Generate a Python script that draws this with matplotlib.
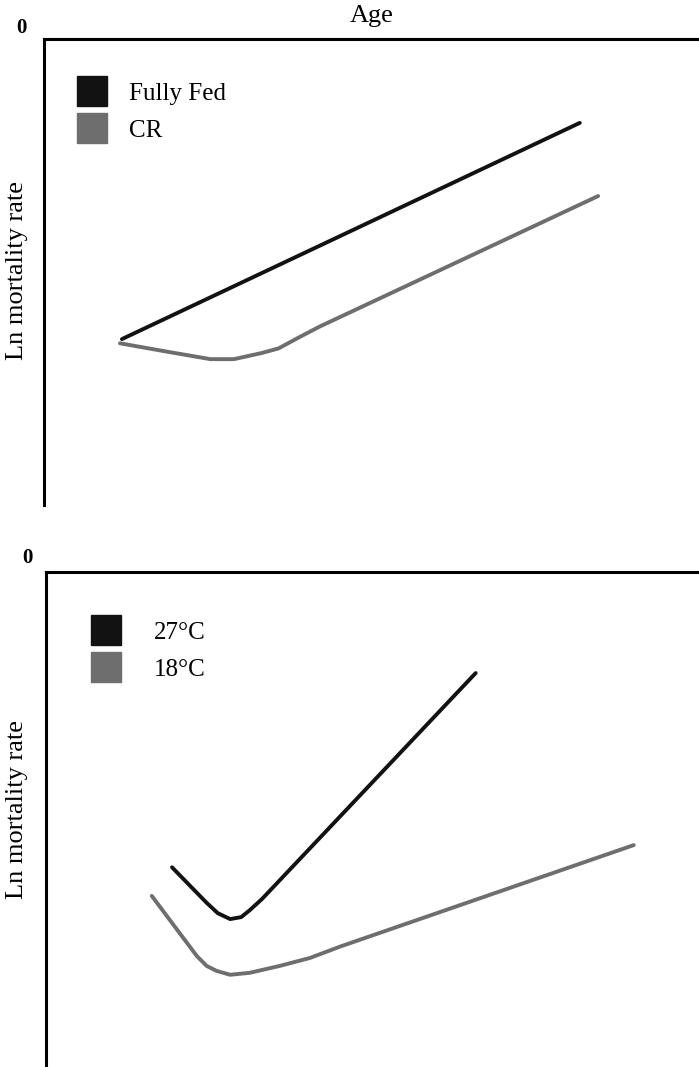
import matplotlib
matplotlib.use("Agg")
import matplotlib.pyplot as plt
from matplotlib.lines import Line2D

plt.rcParams['font.family'] = ['Liberation Serif', 'DejaVu Serif']

# panel A: diet
fed_age = [11.9, 81.8]
fed_rate = [-6.44, -1.80]
cr_age = [11.6, 18.8, 25.4, 29.0, 33.2, 35.8, 39.1, 42.1, 84.6]
cr_rate = [-6.53, -6.71, -6.87, -6.87, -6.74, -6.64, -6.39, -6.17, -3.37]

# panel B: temperature
t27_age = [19.3, 24.6, 26.3, 28.2, 29.9, 31.2, 33.1, 65.8]
t27_rate = [-5.99, -6.71, -6.92, -7.04, -7.00, -6.86, -6.63, -2.05]
t18_age = [16.2, 23.1, 24.6, 26.1, 28.2, 31.2, 35.8, 40.4, 45.0, 90.0]
t18_rate = [-6.57, -7.79, -7.99, -8.09, -8.17, -8.13, -7.99, -7.83, -7.60, -5.54]

BLACK = '#121212'
GREY = '#6e6e6e'

W, H = 699, 1067
fig = plt.figure(figsize=(W / 100, H / 100), dpi=100)
ax1 = fig.add_axes([44 / W, 1 - 505 / H, 1 - 44 / W, (505 - 39) / H])
ax2 = fig.add_axes([46 / W, 1 - 1065 / H, 1 - 46 / W, (1065 - 572) / H])


def style(ax, labels, colors, leg_xy, textpad, zero_xy, label_xy):
    for s in ('right', 'bottom'):
        ax.spines[s].set_visible(False)
    for s in ('top', 'left'):
        ax.spines[s].set_linewidth(2.2)
        ax.spines[s].set_color('black')
    ax.set_xticks([])
    ax.set_yticks([])
    ax.set_xlim(0, 100)
    ax.set_ylim(-10, 0)
    ax.set_ylabel('Ln mortality rate', fontsize=19)
    ax.yaxis.set_label_coords(*label_xy)
    ax.text(zero_xy[0], zero_xy[1], '0', transform=ax.transAxes, fontsize=15,
            fontweight='bold', ha='center', va='center')
    handles = [Line2D([], [], marker='s', ls='none', markersize=21,
                      markerfacecolor=c, markeredgecolor=c) for c in colors]
    ax.legend(handles, labels, loc='upper left', bbox_to_anchor=leg_xy,
              frameon=False, fontsize=18, handletextpad=textpad,
              labelspacing=0.57, borderaxespad=0, handlelength=1.2)


ax1.plot(fed_age, fed_rate, color=BLACK, lw=2.8, solid_capstyle='round')
ax1.plot(cr_age, cr_rate, color=GREY, lw=2.8, solid_capstyle='round',
         solid_joinstyle='round')
style(ax1, ['Fully Fed', 'CR'], [BLACK, GREY], (0.035, 0.928), 0.9,
      (-0.034, 1.024), (-0.024, 0.504))
ax1.set_xlabel('Age', fontsize=19, labelpad=12)
ax1.xaxis.set_label_position('top')

ax2.plot(t27_age, t27_rate, color=BLACK, lw=2.8, solid_capstyle='round',
         solid_joinstyle='round')
ax2.plot(t18_age, t18_rate, color=GREY, lw=2.8, solid_capstyle='round',
         solid_joinstyle='round')
style(ax2, ['27°C', '18°C'], [BLACK, GREY], (0.054, 0.92), 1.32,
      (-0.029, 1.028), (-0.028, 0.519))

fig.savefig('out.png', dpi=100)
